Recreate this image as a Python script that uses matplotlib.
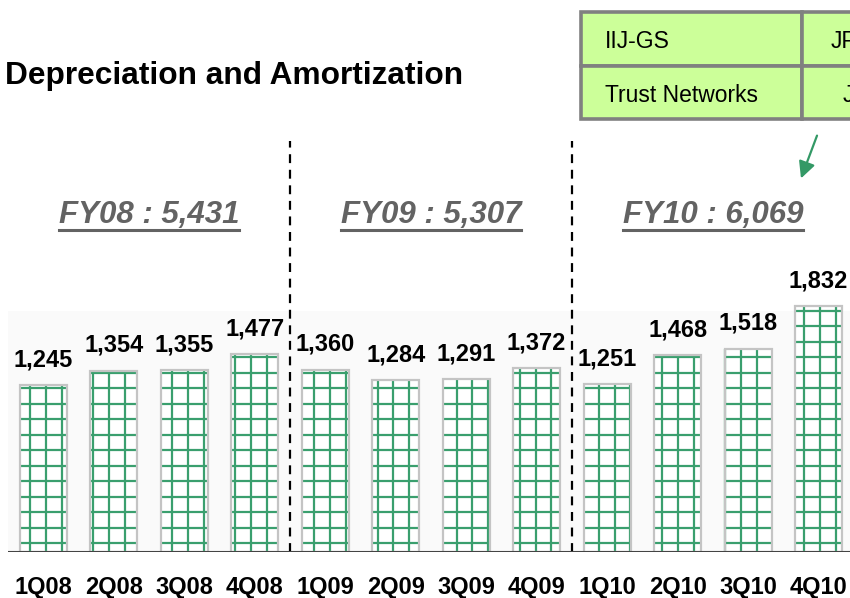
import matplotlib
matplotlib.use("Agg")
import numpy as np
import matplotlib.pyplot as plt
from matplotlib.patches import Rectangle, FancyArrowPatch
from matplotlib.collections import LineCollection

plt.rcParams['font.family'] = ['Liberation Sans', 'DejaVu Sans']

# Quarterly depreciation and amortization (JPY millions)
quarters = ['1Q08', '2Q08', '3Q08', '4Q08',
            '1Q09', '2Q09', '3Q09', '4Q09',
            '1Q10', '2Q10', '3Q10', '4Q10']
values = [1245, 1354, 1355, 1477,
          1360, 1284, 1291, 1372,
          1251, 1468, 1518, 1832]

# Fiscal-year totals
fy_labels = ['FY08', 'FY09', 'FY10']
fy_totals = [5431, 5307, 6069]

# Subsidiary table rows (right-hand column runs off the page)
table_left = ['IIJ-GS', 'Trust Networks']
table_right = ['JP', 'J']

W, H = 850, 598
fig = plt.figure(figsize=(W / 100, H / 100), dpi=100)
fig.patch.set_facecolor('white')

# Bar axes: baseline at y=552 px, top at y=141 px
ax_left, ax_right = 8.3, 853.7
ax_bottom, ax_top = 552, 141
ax = fig.add_axes([ax_left / W, (H - ax_bottom) / H,
                   (ax_right - ax_left) / W, (ax_bottom - ax_top) / H])
XMIN, XMAX = -0.5, len(values) - 0.5
YMAX = 3067
ax.set_xlim(XMIN, XMAX)
ax.set_ylim(0, YMAX)
ax.patch.set_alpha(0)

# pixel -> data step sizes for the grid fill
px_x = (XMAX - XMIN) / (ax_right - ax_left)
px_y = YMAX / (ax_bottom - ax_top)

# faint plot-area background
ax.add_patch(Rectangle((XMIN, 0), len(values), 1800, facecolor='#fafafa',
                       edgecolor='none', zorder=0))

x = np.arange(len(values))
bar_w = 0.667
bars = ax.bar(x, values, width=bar_w, color='white', edgecolor='none',
              linewidth=0, zorder=2)

# green grid fill inside each bar (global lattice, clipped to the bar)
grid_dx = 15.8 * px_x
grid_dy = 15.5 * px_y
x_lattice = XMIN + (30 - ax_left) * px_x + grid_dx * np.arange(-3, 60)
y_lattice = 9 * px_y + grid_dy * np.arange(0, 200)
for b in bars:
    x0, x1 = b.get_x(), b.get_x() + b.get_width()
    top = b.get_height()
    segs = []
    for xv in x_lattice[(x_lattice > x0) & (x_lattice < x1)]:
        segs.append([(xv, 0), (xv, top)])
    for yv in y_lattice[y_lattice < top]:
        segs.append([(x0, yv), (x1, yv)])
    lc = LineCollection(segs, colors='#3a9f6e', linewidths=1.6, zorder=2.5)
    ax.add_collection(lc)

# light grey outline
ax.bar(x, values, width=bar_w, color='none', edgecolor='#c4c4c4',
       linewidth=1.6, zorder=3)

for xi, v in zip(x, values):
    ax.annotate(f'{v:,}', (xi, v), xytext=(0, 10), textcoords='offset points',
                ha='center', va='bottom', fontsize=17, fontweight='bold',
                color='black', zorder=4)

# fiscal-year separators
for sep in (3.5, 7.5):
    ax.plot([sep, sep], [0, YMAX], color='black', linewidth=1.6,
            linestyle=(0, (4, 3)), zorder=3, clip_on=False)

# fiscal-year totals
for i, (lab, tot) in enumerate(zip(fy_labels, fy_totals)):
    cx = i * 4 + 1.5
    ax.text(cx, 2518, f'{lab} : {tot:,}', ha='center', va='center',
            fontsize=22.5, fontweight='bold', fontstyle='italic',
            color='#636363', zorder=4)

ax.axhline(0, color='#444444', linewidth=1.5, zorder=5)

ax.set_xticks(x)
ax.set_xticklabels(quarters, fontsize=17, fontweight='bold')
ax.tick_params(axis='x', length=0, pad=17)
ax.set_yticks([])
for s in ax.spines.values():
    s.set_visible(False)

# underline the FY totals
fig.canvas.draw()
renderer = fig.canvas.get_renderer()
for t in ax.texts:
    if t.get_text().startswith('FY'):
        bb = t.get_window_extent(renderer)
        y_line = bb.y0
        fig.add_artist(plt.Line2D([bb.x0 / W, bb.x1 / W],
                                  [y_line / H, y_line / H],
                                  color='#636363', linewidth=2.2))

# title
fig.text(5 / W, 1 - 76 / H, 'Depreciation and Amortization', ha='left',
         va='center', fontsize=22.8, fontweight='bold', color='black')

# subsidiary table
tab_x0, tab_split, tab_x1 = 581, 802, 870
row_y = [12, 66, 119]
for r in range(2):
    for cx0, cx1 in ((tab_x0, tab_split), (tab_split, tab_x1)):
        fig.add_artist(Rectangle((cx0 / W, 1 - row_y[r + 1] / H),
                                 (cx1 - cx0) / W, (row_y[r + 1] - row_y[r]) / H,
                                 facecolor='#ccff99', edgecolor='#808080',
                                 linewidth=2.6))
    yc = 1 - ((row_y[r] + row_y[r + 1]) / 2 + 2.5) / H
    fig.text(605 / W, yc, table_left[r], ha='left', va='center',
             fontsize=16.5, color='black')
fig.text(831 / W, 1 - 41.5 / H, table_right[0], ha='left', va='center',
         fontsize=16.5, color='black')
fig.text(843 / W, 1 - 95.5 / H, table_right[1], ha='left', va='center',
         fontsize=16.5, color='black')

# pointer arrow
fig.add_artist(FancyArrowPatch((818 / W, 1 - 133 / H), (800 / W, 1 - 181 / H),
                               transform=fig.transFigure,
                               arrowstyle='-|>,head_length=10,head_width=5',
                               color='#339966', linewidth=1.6))

fig.savefig('out.png', dpi=100)
